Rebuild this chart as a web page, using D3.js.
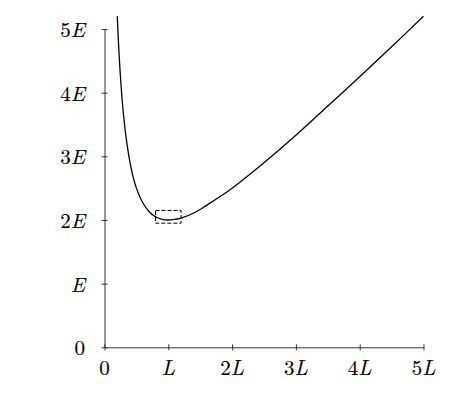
<!DOCTYPE html>
<html>
<head>
<meta charset="utf-8">
<script src="https://cdn.jsdelivr.net/npm/d3@7"></script>
<style>
  body { margin: 0; background: #fff; }
  .lbl { font-family: "Latin Modern Roman", "Liberation Serif", serif; font-size: 21px; fill: #000; stroke: #000; stroke-width: 0.15px; }
  .lbl .it { font-style: italic; }
</style>
</head>
<body>
<div id="chart"></div>
<script>
// curve values (x in L, energy in E)
var xVals = [0.2, 0.22, 0.25, 0.3, 0.35, 0.4, 0.45, 0.5, 0.6, 0.7, 0.8, 0.9, 1.0, 1.1, 1.2, 1.4, 1.6, 1.8, 2.0, 2.5, 3.0, 3.5, 4.0, 4.5, 5.0];
var eVals = [5.20, 4.77, 4.25, 3.63, 3.21, 2.90, 2.67, 2.50, 2.27, 2.13, 2.05, 2.01, 2.00, 2.01, 2.03, 2.11, 2.23, 2.36, 2.50, 2.90, 3.33, 3.79, 4.25, 4.72, 5.20];

var xTicks = [0, 1, 2, 3, 4, 5];
var xTickLabels = [["0", ""], ["", "L"], ["2", "L"], ["3", "L"], ["4", "L"], ["5", "L"]];
var yTicks = [0, 1, 2, 3, 4, 5];
var yTickLabels = [["0", ""], ["", "E"], ["2", "E"], ["3", "E"], ["4", "E"], ["5", "E"]];

// dashed box around the minimum
var boxX = [0.8, 1.2];
var boxY = [1.95, 2.15];

var svgWidth = 472, svgHeight = 400;

var svg = d3.select("#chart")
  .append("svg")
  .attr("width", svgWidth)
  .attr("height", svgHeight);

var x = d3.scaleLinear().domain([0, 5]).range([104.5, 423.5]);
var y = d3.scaleLinear().domain([0, 5]).range([347.3, 29]);

// x axis
var xAxis = svg.append("g")
  .attr("transform", `translate(0, ${y(0)})`)
  .call(d3.axisBottom(x).tickValues(xTicks).tickSize(3).tickSizeOuter(0).tickFormat(""));
xAxis.selectAll(".tick line").attr("y1", -3).attr("y2", 3);

// y axis
var yAxis = svg.append("g")
  .attr("transform", `translate(${x(0)}, 0)`)
  .call(d3.axisLeft(y).tickValues(yTicks).tickSize(3).tickSizeOuter(0).tickFormat(""));
yAxis.selectAll(".tick line").attr("x1", -3).attr("x2", 3);

svg.selectAll(".domain, .tick line")
  .attr("stroke", "#333")
  .attr("stroke-width", 1);

// tick labels
var xl = svg.selectAll(".xlbl")
  .data(xTicks)
  .enter()
  .append("text")
  .attr("class", "lbl")
  .attr("x", d => x(d))
  .attr("y", y(0) + 28)
  .attr("text-anchor", "middle");
xl.append("tspan").text((d, i) => xTickLabels[i][0]);
xl.append("tspan").attr("class", "it").text((d, i) => xTickLabels[i][1]);

var yl = svg.selectAll(".ylbl")
  .data(yTicks)
  .enter()
  .append("text")
  .attr("class", "lbl")
  .attr("x", 85)
  .attr("y", d => y(d) + 8)
  .attr("text-anchor", "end");
yl.append("tspan").text((d, i) => yTickLabels[i][0]);
yl.append("tspan").attr("class", "it").text((d, i) => yTickLabels[i][1]);

// the curve
var pts = xVals.map((v, i) => [v, eVals[i]]);
svg.append("path")
  .datum(pts)
  .attr("fill", "none")
  .attr("stroke", "#000")
  .attr("stroke-width", 1.3)
  .attr("d", d3.line()
    .x(d => x(d[0]))
    .y(d => y(d[1]))
    .curve(d3.curveCatmullRom));

// dashed box
svg.append("rect")
  .attr("x", x(boxX[0]))
  .attr("y", y(boxY[1]))
  .attr("width", x(boxX[1]) - x(boxX[0]))
  .attr("height", y(boxY[0]) - y(boxY[1]))
  .attr("fill", "none")
  .attr("stroke", "#000")
  .attr("stroke-width", 1)
  .attr("stroke-dasharray", "4,2");
</script>
</body>
</html>
